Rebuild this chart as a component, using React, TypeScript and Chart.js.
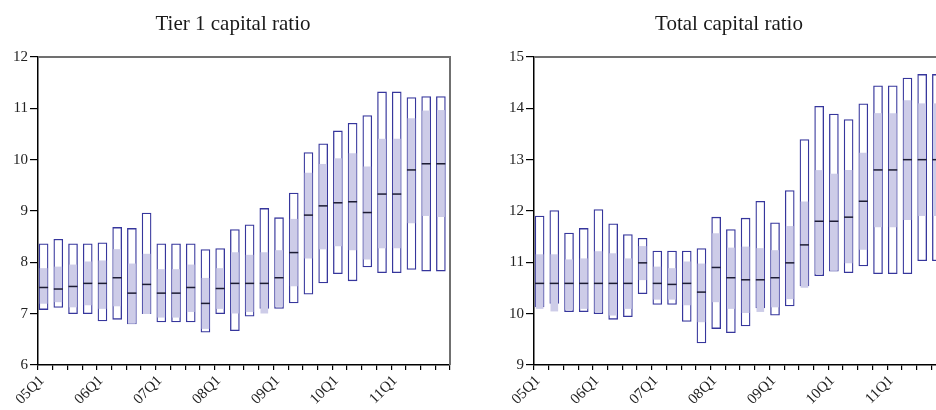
import React, { useEffect, useRef } from "react";
import { Chart, registerables } from "chart.js";

Chart.register(...registerables);

// Quarters 2005Q1 .. 2011Q4
const quarterLabels = [
  "05Q1", "05Q2", "05Q3", "05Q4",
  "06Q1", "06Q2", "06Q3", "06Q4",
  "07Q1", "07Q2", "07Q3", "07Q4",
  "08Q1", "08Q2", "08Q3", "08Q4",
  "09Q1", "09Q2", "09Q3", "09Q4",
  "10Q1", "10Q2", "10Q3", "10Q4",
  "11Q1", "11Q2", "11Q3", "11Q4",
];

// Tier 1 capital ratio (%)
const tier1Max = [8.36, 8.45, 8.36, 8.36, 8.38, 8.68, 8.66, 8.96, 8.36, 8.36, 8.36, 8.25, 8.27, 8.64, 8.73, 9.05, 8.87, 9.35, 10.14, 10.31, 10.56, 10.71, 10.86, 11.32, 11.32, 11.21, 11.23, 11.23];
const tier1Min = [7.08, 7.12, 7.0, 7.0, 6.86, 6.89, 6.8, 7.0, 6.84, 6.84, 6.84, 6.64, 7.0, 6.67, 6.95, 7.1, 7.1, 7.21, 7.38, 7.6, 7.78, 7.64, 7.91, 7.8, 7.8, 7.86, 7.83, 7.83];
const tier1Upper = [7.88, 7.91, 7.95, 8.01, 8.03, 8.25, 7.97, 8.16, 7.86, 7.86, 7.95, 7.69, 7.88, 8.19, 8.14, 8.19, 8.23, 8.84, 9.74, 9.91, 10.02, 10.12, 9.86, 10.4, 10.4, 10.8, 10.95, 10.96];
const tier1Lower = [7.2, 7.23, 7.13, 7.17, 7.1, 7.15, 6.81, 7.0, 6.93, 6.93, 7.04, 6.71, 7.1, 7.01, 7.04, 7.01, 7.14, 7.54, 8.08, 8.26, 8.32, 8.24, 8.06, 8.28, 8.28, 8.77, 8.91, 8.89];
const tier1Median = [7.51, 7.48, 7.53, 7.59, 7.59, 7.7, 7.4, 7.57, 7.4, 7.4, 7.51, 7.2, 7.49, 7.59, 7.59, 7.59, 7.7, 8.19, 8.92, 9.1, 9.16, 9.18, 8.97, 9.33, 9.33, 9.8, 9.92, 9.92];

// Total capital ratio (%)
const totalMax = [11.9, 12.01, 11.57, 11.66, 12.03, 11.75, 11.54, 11.47, 11.22, 11.22, 11.22, 11.27, 11.88, 11.64, 11.86, 12.19, 11.77, 12.4, 13.39, 14.04, 13.89, 13.78, 14.09, 14.44, 14.44, 14.59, 14.66, 14.66];
const totalMin = [10.13, 10.2, 10.04, 10.04, 10.0, 9.89, 9.94, 10.39, 10.18, 10.18, 9.85, 9.43, 9.71, 9.63, 9.76, 10.11, 9.97, 10.15, 10.54, 10.74, 10.83, 10.8, 10.93, 10.78, 10.78, 10.78, 11.03, 11.03];
const totalUpper = [11.15, 11.15, 11.05, 11.07, 11.21, 11.17, 11.07, 11.31, 10.91, 10.88, 11.01, 10.97, 11.56, 11.28, 11.3, 11.27, 11.23, 11.7, 12.18, 12.79, 12.72, 12.79, 13.13, 13.9, 13.9, 14.15, 14.09, 14.09];
const totalLower = [10.1, 10.05, 10.08, 10.1, 10.04, 9.97, 10.1, 10.66, 10.28, 10.28, 10.17, 9.84, 10.23, 10.1, 10.02, 10.04, 10.13, 10.29, 10.51, 10.78, 10.84, 10.99, 11.25, 11.69, 11.69, 11.83, 11.91, 11.91];
const totalMedian = [10.59, 10.59, 10.59, 10.59, 10.59, 10.59, 10.59, 10.99, 10.59, 10.57, 10.59, 10.42, 10.9, 10.7, 10.66, 10.66, 10.7, 10.99, 11.34, 11.8, 11.8, 11.88, 12.19, 12.8, 12.8, 13.0, 13.0, 13.0];

const FONT = "'Liberation Serif', 'DejaVu Serif', serif";
const BOX_BLUE = "#36369c";
const BAND_FILL = "#cdcce8";
const MEDIAN_COLOR = "#1c1c34";

// Each quarter occupies the interval [i, i+1] of the x axis; its box sits inside.
const boxPos = (i: number) => i + 0.38;

const framePlugin = {
  id: "frame",
  afterDraw(chart: any) {
    const { ctx, chartArea } = chart;
    ctx.save();
    ctx.strokeStyle = "#707070";
    ctx.lineWidth = 2;
    ctx.beginPath();
    ctx.moveTo(chartArea.left, chartArea.top);
    ctx.lineTo(chartArea.right, chartArea.top);
    ctx.lineTo(chartArea.right, chartArea.bottom);
    ctx.stroke();
    ctx.restore();
  },
};

type PanelProps = {
  max: number[];
  min: number[];
  upper: number[];
  lower: number[];
  median: number[];
  yMin: number;
  yMax: number;
};

function RangePanel({ max, min, upper, lower, median, yMin, yMax }: PanelProps) {
  const ref = useRef<HTMLCanvasElement | null>(null);

  useEffect(() => {
    if (!ref.current) return;
    const chart = new Chart(ref.current, {
      type: "bar",
      data: {
        datasets: [
          {
            type: "line",
            label: "median",
            data: median.map((m, i) => ({ x: boxPos(i), y: m })),
            showLine: false,
            pointStyle: "line",
            pointRadius: 4.5,
            pointHoverRadius: 4.5,
            pointBorderWidth: 1.5,
            pointBorderColor: MEDIAN_COLOR,
            pointBackgroundColor: MEDIAN_COLOR,
            order: 1,
          } as any,
          {
            type: "bar",
            label: "interquartile",
            data: upper.map((u, i) => ({ x: boxPos(i), y: [lower[i], u] })),
            backgroundColor: BAND_FILL,
            borderWidth: 0,
            barThickness: 7,
            grouped: false,
            order: 2,
          } as any,
          {
            type: "bar",
            label: "range",
            data: max.map((h, i) => ({ x: boxPos(i), y: [min[i], h] })),
            backgroundColor: "#ffffff",
            borderColor: BOX_BLUE,
            borderWidth: 1.3,
            borderSkipped: false,
            barThickness: 9,
            grouped: false,
            order: 3,
          } as any,
        ],
      },
      options: {
        animation: false,
        responsive: false,
        maintainAspectRatio: false,
        layout: { padding: { top: 57, right: 18, bottom: 0, left: 0 } },
        plugins: {
          legend: { display: false },
          title: { display: false },
          tooltip: { enabled: false },
        },
        scales: {
          x: {
            type: "linear",
            min: 0,
            max: 28,
            offset: false,
            afterFit: (s: any) => {
              s.height = 45;
            },
            border: { display: true, color: "#000", width: 1.5 },
            grid: {
              offset: false,
              drawOnChartArea: false,
              drawTicks: true,
              tickLength: 5,
              color: "#000",
              lineWidth: 1.2,
            },
            ticks: {
              stepSize: 1,
              autoSkip: false,
              minRotation: 45,
              maxRotation: 45,
              padding: 2,
              labelOffset: 4,
              color: "#222",
              font: { family: FONT, size: 15 },
              callback: (v: any) => {
                const n = Number(v);
                return n % 4 === 0 && n < quarterLabels.length ? quarterLabels[n] : "";
              },
            },
          },
          y: {
            type: "linear",
            min: yMin,
            max: yMax,
            afterFit: (s: any) => {
              s.width = 38;
            },
            border: { display: true, color: "#000", width: 1.5 },
            grid: {
              drawOnChartArea: false,
              drawTicks: true,
              tickLength: 8,
              color: "#000",
              lineWidth: 1.2,
            },
            ticks: {
              stepSize: 1,
              padding: 2,
              color: "#222",
              font: { family: FONT, size: 15 },
            },
          },
        },
      } as any,
      plugins: [framePlugin],
    });
    return () => chart.destroy();
  }, []);

  return <canvas ref={ref} width={468} height={410} style={{ display: "block" }} />;
}

const titleStyle: React.CSSProperties = {
  position: "absolute",
  top: 12,
  width: 466,
  textAlign: "center",
  fontFamily: FONT,
  fontSize: 21,
  lineHeight: "22px",
  color: "#1a1a1a",
};

export default function App() {
  return (
    <div
      style={{
        position: "fixed",
        left: 0,
        top: 0,
        width: 936,
        height: 410,
        overflow: "hidden",
        background: "#fff",
      }}
    >
      <div style={{ position: "absolute", left: 0, top: 0 }}>
        <RangePanel
          max={tier1Max}
          min={tier1Min}
          upper={tier1Upper}
          lower={tier1Lower}
          median={tier1Median}
          yMin={6}
          yMax={12}
        />
      </div>
      <div style={{ position: "absolute", left: 496, top: 0 }}>
        <RangePanel
          max={totalMax}
          min={totalMin}
          upper={totalUpper}
          lower={totalLower}
          median={totalMedian}
          yMin={9}
          yMax={15}
        />
      </div>
      <div style={{ ...titleStyle, left: 0 }}>Tier 1 capital ratio</div>
      <div style={{ ...titleStyle, left: 496 }}>Total capital ratio</div>
    </div>
  );
}
